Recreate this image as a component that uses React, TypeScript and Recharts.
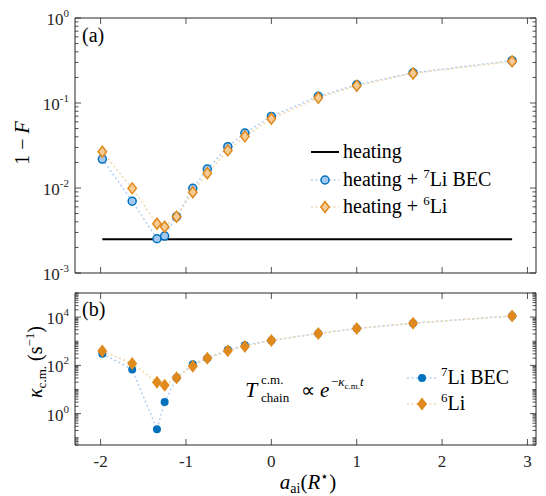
import React from 'react';
import { ComposedChart, Line, XAxis, YAxis } from 'recharts';

// a_ai in units of R*
const aai = [-1.98, -1.63, -1.34, -1.25, -1.11, -0.92, -0.75, -0.51, -0.31, 0, 0.55, 1.0, 1.66, 2.82];
// panel (a): infidelity 1 - F
const infidBec = [0.0219, 0.007, 0.00253, 0.00272, 0.0046, 0.0099, 0.0167, 0.0306, 0.0443, 0.0696, 0.12, 0.164, 0.227, 0.315];
const infidLi6 = [0.0267, 0.0099, 0.0038, 0.0035, 0.0046, 0.0089, 0.0149, 0.0277, 0.0405, 0.0654, 0.115, 0.16, 0.223, 0.309];
const heatingOnly = 0.0025;
// panel (b): kappa_c.m. in s^-1
const kappaBec = [300, 68, 0.226, 3.0, 31, 110, 195, 440, 690, 1080, 2100, 3370, 5600, 11200];
const kappaLi6 = [390, 120, 20, 15, 31, 93, 195, 400, 610, 1080, 2100, 3370, 5600, 11200];

const xTicks = [-2, -1, 0, 1, 2, 3];
const topDecades = [-3, -2, -1, 0];
const bottomDecades = [0, 2, 4];

const X_DOMAIN: [number, number] = [-2.3, 3.1];
const TOP_DOMAIN: [number, number] = [0.001, 1];
const BOTTOM_DOMAIN: [number, number] = [0.05, 100000];

const AXIS = '#262626';
const FONT = '"Liberation Serif", "Times New Roman", serif';
const BLUE = '#0072BD';
const BLUE_FILL = '#a3c8f0';
const BLUE_LINE = '#b3d0f3';
const ORANGE = '#E0891C';
const ORANGE_FILL = '#f6cc96';
const ORANGE_LINE = '#f4d8ae';

const topData = aai.map((x, i) => ({ x, bec: infidBec[i], li6: infidLi6[i], heat: heatingOnly }));
const bottomData = aai.map((x, i) => ({ x, bec: kappaBec[i], li6: kappaLi6[i] }));

function logTicks(lo: number, hi: number) {
  const out: number[] = [];
  for (let e = Math.floor(Math.log10(lo)); e <= Math.ceil(Math.log10(hi)); e++) {
    for (let m = 1; m < 10; m++) {
      const v = m * Math.pow(10, e);
      if (v >= lo * 0.999 && v <= hi * 1.001) out.push(v);
    }
  }
  return out;
}

const makeYTick = (side: 'left' | 'right', labelled: number[]) => (props: any) => {
  const { x, y, payload } = props;
  const e = Math.log10(payload.value);
  const exp = Math.round(e);
  const major = Math.abs(e - exp) < 1e-6 && labelled.includes(exp);
  const len = major ? 6 : 3.5;
  const dir = side === 'left' ? 1 : -1;
  return (
    <g>
      <line x1={x} x2={x + dir * len} y1={y} y2={y} stroke={AXIS} strokeWidth={0.8} />
      {side === 'left' && major && (
        <text x={x - 6} y={y + 7} textAnchor="end" fontFamily={FONT} fontSize={17} fill={AXIS}>
          10<tspan dy={-8} fontSize={11}>{String(exp)}</tspan>
        </text>
      )}
    </g>
  );
};

const makeXTick = (side: 'top' | 'bottom', showLabel: boolean) => (props: any) => {
  const { x, y, payload } = props;
  const dir = side === 'top' ? 1 : -1;
  return (
    <g>
      <line x1={x} x2={x} y1={y} y2={y + dir * 6} stroke={AXIS} strokeWidth={0.8} />
      {showLabel && (
        <text x={x} y={y + 22} textAnchor="middle" fontFamily={FONT} fontSize={17} fill={AXIS}>
          {String(payload.value)}
        </text>
      )}
    </g>
  );
};

const Ring = (p: any) =>
  p.cx == null ? <g key={p.key} /> : (
    <circle key={p.key} cx={p.cx} cy={p.cy} r={4} fill={BLUE_FILL} stroke={BLUE} strokeWidth={1.5} />
  );
const HollowDiamond = (p: any) =>
  p.cx == null ? <g key={p.key} /> : (
    <polygon key={p.key} points={`${p.cx},${p.cy - 5.5} ${p.cx + 4.2},${p.cy} ${p.cx},${p.cy + 5.5} ${p.cx - 4.2},${p.cy}`}
      fill={ORANGE_FILL} stroke={ORANGE} strokeWidth={1.5} />
  );
const Dot = (p: any) =>
  p.cx == null ? <g key={p.key} /> : <circle key={p.key} cx={p.cx} cy={p.cy} r={4} fill={BLUE} />;
const Diamond = (p: any) =>
  p.cx == null ? <g key={p.key} /> : (
    <polygon key={p.key} points={`${p.cx},${p.cy - 6.5} ${p.cx + 5},${p.cy} ${p.cx},${p.cy + 6.5} ${p.cx - 5},${p.cy}`} fill={ORANGE} />
  );

const Panel = ({ data, domain, ticks, labelled, height, margin, bottomHeight, labels, children }: any) => (
  <ComposedChart width={546} height={height} data={data} margin={margin}>
    <XAxis xAxisId="b" dataKey="x" type="number" domain={X_DOMAIN} ticks={xTicks} interval={0} allowDataOverflow
      height={bottomHeight} stroke={AXIS} tickLine={false} tickSize={0} tickMargin={0} tick={makeXTick('bottom', labels)} />
    <XAxis xAxisId="t" orientation="top" dataKey="x" type="number" domain={X_DOMAIN} ticks={xTicks} interval={0} allowDataOverflow
      height={10} stroke={AXIS} tickLine={false} tickSize={0} tickMargin={0} tick={makeXTick('top', false)} />
    <YAxis yAxisId="l" type="number" scale="log" domain={domain} ticks={ticks} interval={0} allowDataOverflow
      width={60} stroke={AXIS} tickLine={false} tickSize={0} tickMargin={0} tick={makeYTick('left', labelled)} />
    <YAxis yAxisId="r" orientation="right" type="number" scale="log" domain={domain} ticks={ticks} interval={0} allowDataOverflow
      width={5} stroke={AXIS} tickLine={false} tickSize={0} tickMargin={0} tick={makeYTick('right', labelled)} />
    {children}
  </ComposedChart>
);

const LegendRow = ({ y, kind, children }: any) => (
  <g>
    {kind === 'heat' && <line x1={311} x2={339} y1={y} y2={y} stroke="#000" strokeWidth={2} />}
    {kind === 'bec' && (
      <>
        <line x1={311} x2={339} y1={y} y2={y} stroke={BLUE_LINE} strokeWidth={1.5} strokeDasharray="2 2.5" />
        <Ring cx={325} cy={y} />
      </>
    )}
    {kind === 'li6' && (
      <>
        <line x1={311} x2={339} y1={y} y2={y} stroke={ORANGE_LINE} strokeWidth={1.5} strokeDasharray="2 2.5" />
        <HollowDiamond cx={325} cy={y} />
      </>
    )}
    <text x={343} y={y + 6} fontFamily={FONT} fontSize={20} fill="#000">{children}</text>
  </g>
);

const LegendRowB = ({ y, kind, children }: any) => (
  <g>
    <line x1={407} x2={437} y1={y} y2={y} stroke={kind === 'bec' ? BLUE_LINE : ORANGE_LINE} strokeWidth={1.5} strokeDasharray="2 2.5" />
    {kind === 'bec' ? <Dot cx={422} cy={y} /> : <Diamond cx={422} cy={y} />}
    <text x={441} y={y + 6} fontFamily={FONT} fontSize={20} fill="#000">{children}</text>
  </g>
);

const Overlay = () => (
  <svg width={546} height={496} style={{ position: 'absolute', left: 0, top: 0, pointerEvents: 'none' }}>
    <text x={82} y={42} fontFamily={FONT} fontSize={20} fill="#000">(a)</text>
    <text x={82} y={316} fontFamily={FONT} fontSize={20} fill="#000">(b)</text>

    <text transform="translate(29,143) rotate(-90)" textAnchor="middle" fontFamily={FONT} fontSize={20} fill="#000">
      1 − <tspan fontStyle="italic">F</tspan>
    </text>
    <text transform="translate(42,362) rotate(-90)" textAnchor="middle" fontFamily={FONT} fontSize={20} fill="#000">
      <tspan fontStyle="italic">κ</tspan>
      <tspan fontSize={13} dy={4}>c.m.</tspan>
      <tspan dy={-4}> (s</tspan>
      <tspan fontSize={13} dy={-8}>−1</tspan>
      <tspan dy={8}>)</tspan>
    </text>
    <text x={308} y={489} textAnchor="middle" fontFamily={FONT} fontSize={21} fill="#000">
      <tspan fontStyle="italic">a</tspan>
      <tspan fontSize={14} dy={4}>ai</tspan>
      <tspan dy={-4}>(</tspan>
      <tspan fontStyle="italic">R</tspan>
      <tspan fontSize={14} dy={-8}>⋆</tspan>
      <tspan dy={8}>)</tspan>
    </text>

    <LegendRow y={152} kind="heat">heating</LegendRow>
    <LegendRow y={180} kind="bec">heating + <tspan fontSize={13} dy={-8}>7</tspan><tspan dy={8}>Li BEC</tspan></LegendRow>
    <LegendRow y={207} kind="li6">heating + <tspan fontSize={13} dy={-8}>6</tspan><tspan dy={8}>Li</tspan></LegendRow>

    <LegendRowB y={378} kind="bec"><tspan fontSize={13} dy={-8}>7</tspan><tspan dy={8}>Li BEC</tspan></LegendRowB>
    <LegendRowB y={404} kind="li6"><tspan fontSize={13} dy={-8}>6</tspan><tspan dy={8}>Li</tspan></LegendRowB>

    <g fontFamily={FONT} fill="#000">
      <text x={245} y={397} fontSize={22} fontStyle="italic">T</text>
      <text x={261} y={384} fontSize={13}>c.m.</text>
      <text x={261} y={402} fontSize={13}>chain</text>
      <text x={301} y={397} fontSize={20}>∝</text>
      <text x={320} y={397} fontSize={21} fontStyle="italic">e</text>
      <text x={331} y={386} fontSize={13}>
        −<tspan fontStyle="italic">κ</tspan>
        <tspan fontSize={9} dy={3}>c.m.</tspan>
        <tspan fontStyle="italic" dy={-3}>t</tspan>
      </text>
    </g>
  </svg>
);

export default function App() {
  return (
    <div style={{ position: 'absolute', left: 0, top: 0, width: 546, height: 496, background: '#fff' }}>
      <div style={{ position: 'absolute', left: 0, top: 280 }}>
        <Panel data={bottomData} domain={BOTTOM_DOMAIN} ticks={logTicks(BOTTOM_DOMAIN[0], BOTTOM_DOMAIN[1])} labelled={bottomDecades}
          height={216} margin={{ top: 3, right: 5, left: 15, bottom: 21 }} bottomHeight={30} labels={true}>
          <Line xAxisId="b" yAxisId="l" dataKey="bec" stroke={BLUE_LINE} strokeWidth={1.5} strokeDasharray="2 2.5"
            dot={(p: any) => <Dot key={p.index} cx={p.cx} cy={p.cy} />} activeDot={false} isAnimationActive={false} />
          <Line xAxisId="b" yAxisId="l" dataKey="li6" stroke={ORANGE_LINE} strokeWidth={1.5} strokeDasharray="2 2.5"
            dot={(p: any) => <Diamond key={p.index} cx={p.cx} cy={p.cy} />} activeDot={false} isAnimationActive={false} />
        </Panel>
      </div>
      <div style={{ position: 'absolute', left: 0, top: 0 }}>
        <Panel data={topData} domain={TOP_DOMAIN} ticks={logTicks(TOP_DOMAIN[0], TOP_DOMAIN[1])} labelled={topDecades}
          height={288} margin={{ top: 8, right: 5, left: 15, bottom: 10 }} bottomHeight={5} labels={false}>
          <Line xAxisId="b" yAxisId="l" dataKey="heat" stroke="#000" strokeWidth={2} dot={false} activeDot={false} isAnimationActive={false} />
          <Line xAxisId="b" yAxisId="l" dataKey="bec" stroke={BLUE_LINE} strokeWidth={1.5} strokeDasharray="2 2.5"
            dot={(p: any) => <Ring key={p.index} cx={p.cx} cy={p.cy} />} activeDot={false} isAnimationActive={false} />
          <Line xAxisId="b" yAxisId="l" dataKey="li6" stroke={ORANGE_LINE} strokeWidth={1.5} strokeDasharray="2 2.5"
            dot={(p: any) => <HollowDiamond key={p.index} cx={p.cx} cy={p.cy} />} activeDot={false} isAnimationActive={false} />
        </Panel>
      </div>
      <Overlay />
    </div>
  );
}
